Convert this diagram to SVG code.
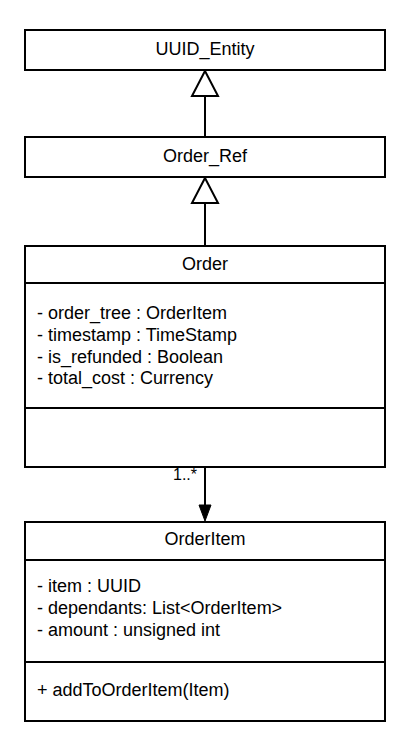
<svg xmlns="http://www.w3.org/2000/svg" width="405" height="746" viewBox="0 0 405 746">
<style>
.box{fill:#fff;stroke:#000;stroke-width:2}
.div{stroke:#000;stroke-width:2}
.t{font-family:"Liberation Sans",Arial,sans-serif;font-size:18px;fill:#000}
.c{text-anchor:middle}
.edge{stroke:#000;stroke-width:2;fill:none}
.hollow{fill:#fff;stroke:#000;stroke-width:2}
</style>
<rect width="405" height="746" fill="#fff"/>
<g id="connectors">
<line class="edge" x1="205" y1="96" x2="205" y2="137"/>
<polygon class="hollow" points="205,71 218,96 192,96"/>
<line class="edge" x1="205" y1="203" x2="205" y2="246"/>
<polygon class="hollow" points="205,178 218,203 192,203"/>
<line class="edge" x1="205" y1="467" x2="205" y2="507"/>
<polygon points="199,505 211,505 205,521" fill="#000" stroke="#000" stroke-width="1"/>
<text class="t" x="197" y="480" text-anchor="end" font-size="16" style="font-size:16px">1..*</text>
</g>
<g id="UUID_Entity">
<rect class="box" x="25" y="30" width="360" height="40"/>
<text class="t c" x="205" y="55">UUID_Entity</text>
</g>
<g id="Order_Ref">
<rect class="box" x="25" y="137" width="360" height="40"/>
<text class="t c" x="205" y="162">Order_Ref</text>
</g>
<g id="Order">
<rect class="box" x="25" y="246" width="360" height="221"/>
<line class="div" x1="25" y1="283" x2="385" y2="283"/>
<line class="div" x1="25" y1="408" x2="385" y2="408"/>
<text class="t c" x="205" y="270">Order</text>
<text class="t" x="37" y="319">- order_tree : OrderItem</text>
<text class="t" x="37" y="341">- timestamp : TimeStamp</text>
<text class="t" x="37" y="363">- is_refunded : Boolean</text>
<text class="t" x="37" y="384">- total_cost : Currency</text>
</g>
<g id="OrderItem">
<rect class="box" x="25" y="522" width="360" height="199"/>
<line class="div" x1="25" y1="560" x2="385" y2="560"/>
<line class="div" x1="25" y1="662" x2="385" y2="662"/>
<text class="t c" x="205" y="545">OrderItem</text>
<text class="t" x="37" y="592">- item : UUID</text>
<text class="t" x="37" y="614">- dependants: List&lt;OrderItem&gt;</text>
<text class="t" x="37" y="636">- amount : unsigned int</text>
<text class="t" x="37" y="696">+ addToOrderItem(Item)</text>
</g>
</svg>
